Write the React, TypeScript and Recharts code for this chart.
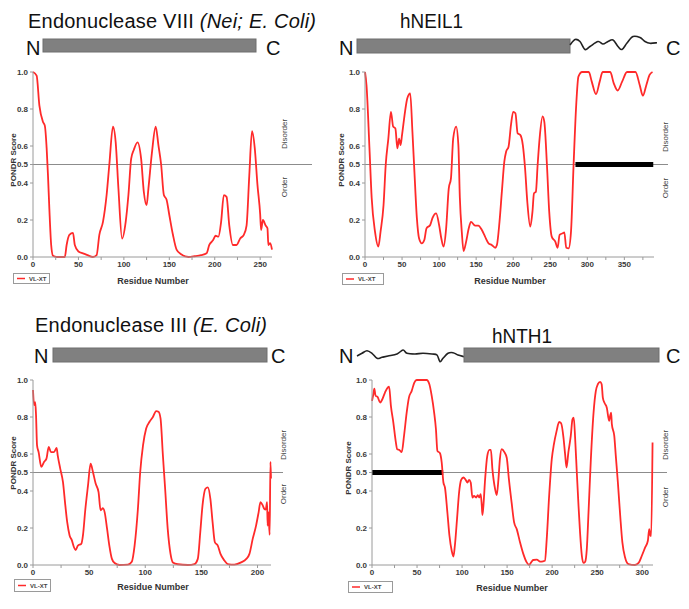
import React from 'react';
import { LineChart, Line, XAxis, YAxis, ReferenceLine } from 'recharts';

const FONT = '"Liberation Sans", Arial, Helvetica, sans-serif';

// PONDR VL-XT profiles: [residue, score]
const neiProfile: [number, number][] = [
  [0, 1.0], [4, 0.98], [7, 0.82], [11, 0.73], [13, 0.71], [15, 0.59], [16.5, 0.44], [18, 0.26], [20, 0.065], [22, 0.007],
  [26, 0], [35, 0], [37, 0.065], [40, 0.12], [44, 0.13], [46, 0.065], [50, 0.03], [55, 0.02], [60, 0.01], [66, 0],
  [70, 0.01], [73, 0.12], [77, 0.19], [81, 0.335], [84, 0.5], [88, 0.705], [91, 0.62], [94, 0.37], [98, 0.1], [102, 0.19],
  [105, 0.335], [108, 0.53], [111, 0.58], [115, 0.62], [119, 0.53], [122, 0.35], [125, 0.28], [127, 0.37], [131, 0.57], [135, 0.705],
  [138, 0.605], [141, 0.5], [144, 0.335], [147, 0.31], [150, 0.227], [154, 0.12], [158, 0.04], [163, 0.015], [171, 0], [178, 0.004],
  [185, 0.01], [191, 0.02], [194, 0.065], [198, 0.09], [201, 0.115], [204, 0.11], [207, 0.19], [210, 0.335], [213, 0.325], [216, 0.17],
  [220, 0.065], [224, 0.065], [228, 0.1], [232, 0.12], [235, 0.17], [238, 0.44], [241, 0.68], [244, 0.59], [247, 0.39], [250, 0.23],
  [251, 0.146], [253, 0.2], [256, 0.17], [258, 0.155], [259, 0.065], [261, 0.075], [263, 0.04],
];

const neil1Profile: [number, number][] = [
  [0, 1.0], [2, 0.93], [6, 0.59], [9, 0.32], [13.5, 0.137], [18, 0.056], [21, 0.137], [25, 0.28], [28, 0.5], [31.5, 0.64],
  [35, 0.785], [38, 0.705], [41, 0.695], [43.7, 0.587], [46, 0.64], [48, 0.605], [50, 0.66], [54, 0.785], [57, 0.857], [61, 0.885],
  [64, 0.677], [66.7, 0.46], [70, 0.21], [73, 0.1], [76.6, 0.074], [80, 0.092], [83, 0.155], [88, 0.173], [91, 0.21], [96, 0.236],
  [100, 0.173], [103, 0.1], [106, 0.056], [109.5, 0.155], [113, 0.37], [116, 0.425], [119, 0.64], [123, 0.705], [126, 0.605], [128, 0.32],
  [130.6, 0.137], [133, 0.032], [136.5, 0.083], [140, 0.155], [143, 0.19], [148.6, 0.17], [153, 0.17], [157.7, 0.146], [162, 0.11], [166.7, 0.074],
  [171, 0.065], [175.7, 0.05], [178, 0.065], [181.5, 0.19], [184.7, 0.353], [188, 0.515], [190.5, 0.57], [193.7, 0.596], [197, 0.714], [200, 0.785],
  [203, 0.777], [206, 0.668], [209.5, 0.66], [213, 0.605], [216, 0.48], [219, 0.3], [223, 0.164], [226, 0.245], [228, 0.344], [230.6, 0.353],
  [233, 0.5], [235.6, 0.64], [239.6, 0.76], [242, 0.73], [245.5, 0.5], [248.6, 0.245], [252, 0.11], [256.8, 0.083], [260, 0.05], [262.6, 0.12],
  [266.7, 0.128], [269, 0.133], [271.6, 0.05], [274.8, 0.047], [278, 0.137], [281.5, 0.5], [285, 0.82], [288, 0.975], [293, 1.0], [302, 1.0],
  [306, 0.948], [311.7, 0.88], [316.7, 0.948], [320.7, 1.0], [331, 1.0], [335.6, 0.94], [341, 0.9], [347, 0.948], [353.6, 1.0], [365, 1.0],
  [370.7, 0.93], [375, 0.872], [379.7, 0.93], [384, 0.984], [388, 1.0],
];

const nthProfile: [number, number][] = [
  [0, 0.946], [1, 0.864], [2, 0.88], [2.7, 0.81], [3.6, 0.647], [5, 0.61], [7.4, 0.53], [9.8, 0.557], [12, 0.575], [14, 0.638],
  [16, 0.61], [18.7, 0.61], [21, 0.633], [22, 0.593], [24.3, 0.52], [26.7, 0.448], [28.8, 0.322], [30.5, 0.23], [32.6, 0.16], [34.7, 0.132],
  [36.5, 0.096], [38, 0.081], [40, 0.105], [43, 0.114], [44.5, 0.16], [46.6, 0.3], [49, 0.43], [51.3, 0.548], [53.4, 0.503], [55.8, 0.44],
  [58.4, 0.394], [60.2, 0.295], [62.3, 0.307], [63.8, 0.286], [66, 0.195], [68, 0.105], [70.3, 0.033], [72.7, 0.011], [77, 0], [84.5, 0.002],
  [88, 0.018], [90.5, 0.105], [93.4, 0.3], [95.5, 0.503], [98, 0.647], [100.8, 0.738], [103.8, 0.774], [106.8, 0.8], [109.7, 0.832], [111.8, 0.828],
  [113.6, 0.792], [115.7, 0.593], [117.7, 0.412], [120, 0.195], [122.5, 0.06], [124.6, 0.014], [129, 0.004], [138, 0], [143.8, 0.005], [146.8, 0.033],
  [149, 0.177], [151, 0.322], [153.6, 0.412], [155.7, 0.42], [158, 0.358], [160, 0.23], [162, 0.123], [164.6, 0.105], [167, 0.06], [170.5, 0.024],
  [173.5, 0.005], [179.4, 0.002], [185.4, 0.014], [190, 0.033], [192.8, 0.06], [195.7, 0.141], [198.7, 0.213], [201, 0.286], [202.6, 0.34], [204.6, 0.322],
  [206, 0.304], [207.3, 0.3], [208.5, 0.34], [209, 0.213], [209.7, 0.286], [210.8, 0.163], [211.5, 0.557], [212, 0.467],
];

const hnth1Profile: [number, number][] = [
  [0, 0.887], [1.5, 0.923], [2.6, 0.953], [4, 0.914], [6, 0.91], [9, 0.878], [11.5, 0.896], [14.4, 0.932], [17.4, 0.959], [19, 0.964],
  [21, 0.86], [23.7, 0.77], [26.3, 0.67], [28, 0.626], [30.4, 0.622], [33, 0.61], [35.6, 0.7], [38.5, 0.824], [41, 0.905], [44, 0.94],
  [47, 0.986], [49.6, 1.0], [60.7, 1.0], [63.7, 0.977], [66.3, 0.914], [69, 0.824], [71, 0.734], [72.6, 0.617], [75.5, 0.604], [77.4, 0.554],
  [79.3, 0.446], [81, 0.419], [83.7, 0.284], [86, 0.158], [88.5, 0.077], [90.4, 0.045], [92, 0.104], [94.4, 0.248], [96.7, 0.392], [99, 0.46],
  [101.5, 0.473], [104, 0.46], [106, 0.446], [107.8, 0.46], [109.6, 0.446], [111.5, 0.365], [113.3, 0.374], [115.6, 0.365], [117.4, 0.378], [119, 0.365],
  [120.7, 0.383], [121.9, 0.32], [122.6, 0.27], [123.7, 0.32], [125.6, 0.464], [128, 0.59], [130.4, 0.622], [132, 0.622], [133.7, 0.518], [136.7, 0.41],
  [138.5, 0.378], [140.4, 0.464], [142, 0.572], [144, 0.626], [147, 0.61], [149.6, 0.58], [152, 0.464], [155, 0.338], [157.8, 0.23], [160.7, 0.194],
  [164.4, 0.122], [168, 0.06], [171.8, 0.014], [174.4, 0], [176.7, 0.014], [179, 0.027], [183, 0.029], [186.7, 0.018], [190, 0.02], [192, 0.023],
  [194, 0.14], [196.7, 0.374], [199.6, 0.572], [202, 0.653], [205, 0.725], [207.8, 0.773], [210, 0.766], [212.6, 0.689], [214.4, 0.599], [216, 0.527],
  [218, 0.608], [220.7, 0.698], [222.6, 0.788], [224, 0.797], [225.6, 0.68], [227.4, 0.5], [229.3, 0.32], [231, 0.176], [233, 0.05], [234.8, 0.011],
  [236.7, 0.018], [238.5, 0.086], [240.4, 0.284], [243, 0.572], [246, 0.824], [248.5, 0.94], [250.7, 0.977], [253.3, 0.99], [255, 0.977], [256.3, 0.905],
  [258, 0.878], [260.7, 0.85], [263.3, 0.779], [264.4, 0.806], [265.5, 0.824], [266.3, 0.761], [269, 0.698], [270.7, 0.59], [273, 0.446], [275.6, 0.266],
  [278, 0.122], [281, 0.041], [284.8, 0.005], [292, 0], [296, 0.011], [299.6, 0.05], [303.3, 0.095], [306.3, 0.131], [307.8, 0.194], [309, 0.158],
  [310, 0.158], [311.5, 0.662],
];

// Residue ranges of predicted disordered segments (black bars on the 0.5 line)
const neil1DisorderRange: [number, number] = [284, 389];
const hnth1DisorderRange: [number, number] = [0, 79];

// Axis ticks
const yTicks = [0, 0.2, 0.4, 0.5, 0.6, 0.8, 1.0];
const neiXTicks = [0, 25, 50, 75, 100, 125, 150, 175, 200, 225, 250];
const neil1XTicks = [0, 25, 50, 75, 100, 125, 150, 175, 200, 225, 250, 275, 300, 325, 350, 375];
const nthXTicks = [0, 25, 50, 75, 100, 125, 150, 175, 200];
const hnth1XTicks = [0, 25, 50, 75, 100, 125, 150, 175, 200, 225, 250, 275, 300];

const toRows = (p: [number, number][]) => p.map(([r, s]) => ({ r, s }));

type Panel = {
  data: { r: number; s: number }[];
  xMax: number;
  xTicks: number[];
  plotLeft: number;
  plotRight: number;
  plotTop: number;
  plotBottom: number;
  ext: number;
  bar?: [number, number];
};

const panels: Panel[] = [
  { data: toRows(neiProfile), xMax: 263, xTicks: neiXTicks, plotLeft: 33, plotRight: 272, plotTop: 72, plotBottom: 257, ext: 40 },
  { data: toRows(neil1Profile), xMax: 390, xTicks: neil1XTicks, plotLeft: 365, plotRight: 654, plotTop: 72, plotBottom: 257, ext: 14, bar: neil1DisorderRange },
  { data: toRows(nthProfile), xMax: 212, xTicks: nthXTicks, plotLeft: 33, plotRight: 271, plotTop: 380, plotBottom: 565, ext: 12 },
  { data: toRows(hnth1Profile), xMax: 312, xTicks: hnth1XTicks, plotLeft: 372, plotRight: 653, plotTop: 380, plotBottom: 565, ext: 14, bar: hnth1DisorderRange },
];

const tickStyle = { fontSize: 8, fontWeight: 700, fill: '#3a3a3a', fontFamily: FONT };

function PondrPlot({ p }: { p: Panel }) {
  const yW = 30;
  const top = 6;
  const xH = 22;
  const chartLeft = p.plotLeft - yW;
  const chartTop = p.plotTop - top;
  const right = p.ext + 4;
  const width = p.plotRight - chartLeft + right;
  const height = p.plotBottom - chartTop + xH;
  const ext = p.ext;
  return (
    <div style={{ position: 'absolute', left: chartLeft, top: chartTop }}>
      <LineChart width={width} height={height} data={p.data} margin={{ top, right, bottom: 0, left: 0 }}>
        <XAxis
          dataKey="r"
          type="number"
          domain={[0, p.xMax]}
          ticks={p.xTicks}
          interval={0}
          height={xH}
          tickSize={3}
          tickMargin={1}
          tickFormatter={(v: number) => (v % 50 === 0 ? String(v) : '')}
          axisLine={{ stroke: '#9a9a9a' }}
          tickLine={{ stroke: '#9a9a9a' }}
          tick={tickStyle}
        />
        <YAxis
          type="number"
          domain={[0, 1]}
          ticks={yTicks}
          interval={0}
          width={yW}
          tickSize={3}
          tickMargin={2}
          tickFormatter={(v: number) => v.toFixed(1)}
          axisLine={{ stroke: '#9a9a9a' }}
          tickLine={{ stroke: '#9a9a9a' }}
          tick={tickStyle}
        />
        <ReferenceLine
          y={0.5}
          stroke="#8c8c8c"
          strokeWidth={1.2}
          shape={(props: any) => (
            <line x1={props.x1} y1={props.y1} x2={props.x2 + ext} y2={props.y2} stroke="#8c8c8c" strokeWidth={1.2} />
          )}
        />
        {p.bar && (
          <ReferenceLine
            segment={[{ x: p.bar[0], y: 0.5 }, { x: p.bar[1], y: 0.5 }]}
            stroke="#000"
            strokeWidth={5}
          />
        )}
        <Line
          dataKey="s"
          type="monotone"
          stroke="#ff2a2a"
          strokeWidth={1.8}
          dot={false}
          isAnimationActive={false}
        />
      </LineChart>
    </div>
  );
}

function smoothPath(pts: number[][]) {
  let d = `M${pts[0][0]},${pts[0][1]}`;
  for (let i = 0; i < pts.length - 1; i++) {
    const p0 = pts[i - 1] || pts[i];
    const p1 = pts[i];
    const p2 = pts[i + 1];
    const p3 = pts[i + 2] || p2;
    const c1x = p1[0] + (p2[0] - p0[0]) / 6;
    const c1y = p1[1] + (p2[1] - p0[1]) / 6;
    const c2x = p2[0] - (p3[0] - p1[0]) / 6;
    const c2y = p2[1] - (p3[1] - p1[1]) / 6;
    d += ` C${c1x},${c1y} ${c2x},${c2y} ${p2[0]},${p2[1]}`;
  }
  return d;
}

// Schematic disordered tails (decoration)
const neil1Tail = [
  [570, 45], [575, 39.5], [580, 41.5], [585, 49.5], [590, 46.5], [598, 41.5], [603, 44], [608, 41.5], [613, 40],
  [618, 46.5], [622, 49.5], [627, 43], [633, 36.5], [640, 37.5], [645, 41.5], [650, 43.3], [657, 42.7],
];
const hnth1Tail = [
  [357, 356], [362, 353.3], [367, 350.7], [372, 353.3], [377, 358.3], [382, 357.3], [388, 356], [397, 354], [403, 350],
  [407, 353.3], [415, 354], [423, 353.3], [432, 354], [437, 355], [440, 361.7], [443, 358.3], [448, 353.3], [453, 352.7],
  [458, 355], [464, 356.7],
];

function Rot({ x, y, children, size = 8, weight = 400, fill = '#444' }: any) {
  return (
    <text
      transform={`translate(${x},${y}) rotate(-90)`}
      textAnchor="middle"
      dominantBaseline="central"
      fontSize={size}
      fontWeight={weight}
      fill={fill}
      fontFamily={FONT}
    >
      {children}
    </text>
  );
}

function LegendBox({ x, y, w, h }: { x: number; y: number; w: number; h: number }) {
  return (
    <g>
      <rect x={x + 0.5} y={y + 0.5} width={w} height={h} fill="#fff" stroke="#9a9a9a" strokeWidth={1} />
      <line x1={x + 4} y1={y + h / 2 + 0.5} x2={x + 12} y2={y + h / 2 + 0.5} stroke="#ff2a2a" strokeWidth={1.5} />
      <text x={x + 16} y={y + h / 2 + 0.5} dominantBaseline="central" fontSize={6} fontWeight={700} fill="#444" fontFamily={FONT}>
        VL-XT
      </text>
    </g>
  );
}

function Overlay() {
  const big = { fontSize: 20, fill: '#111', fontFamily: FONT };
  const label = { fontSize: 9, fontWeight: 700, fill: '#333', fontFamily: FONT, textAnchor: 'middle' as const };
  return (
    <svg width={689} height={609} style={{ position: 'absolute', left: 0, top: 0, pointerEvents: 'none' }}>
      {/* Titles */}
      <text x={28} y={28} {...big} textLength={288} lengthAdjust="spacing">
        Endonuclease VIII <tspan fontStyle="italic">(Nei; E. Coli)</tspan>
      </text>
      <text x={400} y={28} {...big} textLength={63} lengthAdjust="spacingAndGlyphs">hNEIL1</text>
      <text x={35} y={332} {...big} textLength={232} lengthAdjust="spacing">
        Endonuclease III <tspan fontStyle="italic">(E. Coli)</tspan>
      </text>
      <text x={492} y={343} {...big} textLength={60} lengthAdjust="spacingAndGlyphs">hNTH1</text>

      {/* Domain schematics */}
      <text x={26} y={55} {...big}>N</text>
      <rect x={43} y={39} width={213} height={13} fill="#808080" stroke="#6e6e6e" />
      <text x={266} y={55} {...big}>C</text>

      <text x={339} y={55} {...big}>N</text>
      <rect x={357} y={39} width={213} height={14} fill="#808080" stroke="#6e6e6e" />
      <path d={smoothPath(neil1Tail)} fill="none" stroke="#222" strokeWidth={1.6} />
      <text x={666} y={55} {...big}>C</text>

      <text x={34} y={363} {...big}>N</text>
      <rect x={53} y={348} width={214} height={14} fill="#808080" stroke="#6e6e6e" />
      <text x={271} y={363} {...big}>C</text>

      <text x={339} y={363} {...big}>N</text>
      <path d={smoothPath(hnth1Tail)} fill="none" stroke="#222" strokeWidth={1.6} />
      <rect x={464} y={348} width={195} height={14} fill="#808080" stroke="#6e6e6e" />
      <text x={666} y={363} {...big}>C</text>

      {/* Axis titles */}
      <Rot x={13} y={160} weight={700} fill="#333">PONDR Score</Rot>
      <Rot x={341} y={160} weight={700} fill="#333">PONDR Score</Rot>
      <Rot x={13} y={463} weight={700} fill="#333">PONDR Score</Rot>
      <Rot x={348} y={468} weight={700} fill="#333">PONDR Score</Rot>

      <Rot x={284} y={134}>Disorder</Rot>
      <Rot x={284} y={187}>Order</Rot>
      <Rot x={665} y={137}>Disorder</Rot>
      <Rot x={665} y={188}>Order</Rot>
      <Rot x={283} y={445}>Disorder</Rot>
      <Rot x={283} y={494}>Order</Rot>
      <Rot x={665} y={445}>Disorder</Rot>
      <Rot x={665} y={497}>Order</Rot>

      <text x={153} y={284} {...label}>Residue Number</text>
      <text x={510} y={284} {...label}>Residue Number</text>
      <text x={153} y={590} {...label}>Residue Number</text>
      <text x={512} y={591} {...label}>Residue Number</text>

      <LegendBox x={13} y={273} w={36} h={10} />
      <LegendBox x={342} y={273} w={41} h={11} />
      <LegendBox x={14} y={579} w={36} h={12} />
      <LegendBox x={348} y={581} w={44} h={11} />
    </svg>
  );
}

export default function App() {
  return (
    <div style={{ position: 'absolute', left: 0, top: 0, width: 689, height: 609, background: '#fff', fontFamily: FONT }}>
      {panels.map((p, i) => (
        <PondrPlot key={i} p={p} />
      ))}
      <Overlay />
    </div>
  );
}
